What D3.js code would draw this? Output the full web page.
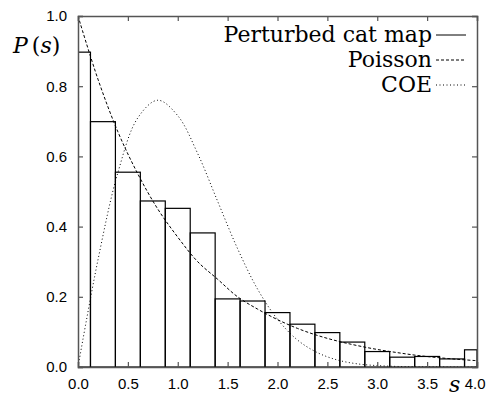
<!DOCTYPE html>
<html>
<head>
<meta charset="utf-8">
<script src="https://cdn.jsdelivr.net/npm/d3@7"></script>
<style>
  body { margin: 0; background: #fff; }
  svg { display: block; }
</style>
</head>
<body>
<div id="chart"></div>
<script>
// histogram of level spacings, bins centred on multiples of 0.25
const binCenters = [0, 0.25, 0.5, 0.75, 1.0, 1.25, 1.5, 1.75, 2.0, 2.25, 2.5, 2.75, 3.0, 3.25, 3.5, 3.75, 4.0];
const binValues = [0.897, 0.699, 0.555, 0.473, 0.452, 0.382, 0.194, 0.188, 0.155, 0.122, 0.098, 0.071, 0.044, 0.028, 0.030, 0.023, 0.049];
const binWidth = 0.25;

// reference curves
const curveS = [0, 0.2, 0.4, 0.6, 0.8, 1.0, 1.2, 1.4, 1.6, 1.8, 2.0, 2.2, 2.4, 2.6, 2.8, 3.0, 3.2, 3.4, 3.6, 3.8, 4.0];
const poissonValues = [1.0, 0.82, 0.67, 0.55, 0.45, 0.37, 0.30, 0.25, 0.20, 0.165, 0.135, 0.11, 0.09, 0.074, 0.061, 0.05, 0.041, 0.033, 0.027, 0.022, 0.018];
const coeValues = [0, 0.305, 0.554, 0.71, 0.76, 0.716, 0.608, 0.472, 0.337, 0.222, 0.136, 0.077, 0.041, 0.02, 0.009, 0.004, 0.0016, 0.0006, 0.0002, 0, 0];

const xTicks = [0, 0.5, 1.0, 1.5, 2.0, 2.5, 3.0, 3.5, 4.0];
const yTicks = [0, 0.2, 0.4, 0.6, 0.8, 1.0];
const legendLabels = ["Perturbed cat map", "Poisson", "COE"];

const W = 486, H = 398;
const margin = { top: 16, right: 9, bottom: 31, left: 78 };
const width = W - margin.left - margin.right;
const height = H - margin.top - margin.bottom;

const svg = d3.select("#chart").append("svg")
  .attr("width", W)
  .attr("height", H);

const x = d3.scaleLinear().domain([0, 4]).range([0, width]);
const y = d3.scaleLinear().domain([0, 1]).range([height, 0]);

const g = svg.append("g").attr("transform", `translate(${margin.left},${margin.top})`);

g.append("clipPath").attr("id", "plot-clip")
  .append("rect").attr("width", width).attr("height", height);

// bars
g.append("g")
  .attr("clip-path", "url(#plot-clip)")
  .selectAll("rect")
  .data(binCenters)
  .join("rect")
  .attr("x", d => x(Math.max(0, d - binWidth / 2)))
  .attr("width", d => x(Math.min(4, d + binWidth / 2)) - x(Math.max(0, d - binWidth / 2)))
  .attr("y", (d, i) => y(binValues[i]))
  .attr("height", (d, i) => y(0) - y(binValues[i]))
  .attr("fill", "none")
  .attr("stroke", "#000")
  .attr("stroke-width", 1.2);

const line = d3.line()
  .x((d, i) => x(curveS[i]))
  .y(d => y(d))
  .curve(d3.curveCatmullRom);

const curves = g.append("g").attr("clip-path", "url(#plot-clip)");
curves.append("path")
  .attr("d", line(poissonValues))
  .attr("fill", "none")
  .attr("stroke", "#000")
  .attr("stroke-width", 1)
  .attr("stroke-dasharray", "3,2");
curves.append("path")
  .attr("d", line(coeValues))
  .attr("fill", "none")
  .attr("stroke", "#000")
  .attr("stroke-width", 1)
  .attr("stroke-dasharray", "1,2.5");

// frame and ticks (inward, mirrored)
const axisColor = "#555";
const xb = g.append("g").attr("transform", `translate(0,${height})`)
  .call(d3.axisBottom(x).tickValues(xTicks).tickSize(-5).tickPadding(11).tickFormat(d3.format(".1f")));
const xt = g.append("g")
  .call(d3.axisTop(x).tickValues(xTicks).tickSize(-5).tickFormat(""));
const yl = g.append("g")
  .call(d3.axisLeft(y).tickValues(yTicks).tickSize(-5).tickPadding(11).tickFormat(d3.format(".1f")));
const yr = g.append("g").attr("transform", `translate(${width},0)`)
  .call(d3.axisRight(y).tickValues(yTicks).tickSize(-5).tickFormat(""));

[xb, xt, yl, yr].forEach(a => {
  a.select(".domain").attr("stroke", axisColor).attr("stroke-width", 1.5);
  a.selectAll(".tick line").attr("stroke", axisColor).attr("stroke-width", 1.2);
  a.selectAll(".tick text")
    .attr("fill", "#000")
    .style("font-family", "'Liberation Sans', Arial, sans-serif")
    .style("font-size", "15px");
});
// last x label sits against the right edge of the picture
xb.selectAll(".tick text").filter(d => d === 4).attr("text-anchor", "end").attr("dx", 8);

// axis labels
const serif = "'DejaVu Serif', serif";
const ylab = svg.append("text")
  .attr("x", 13)
  .attr("y", 53)
  .style("font-family", serif)
  .style("font-size", "22px");
ylab.append("tspan").attr("font-style", "italic").text("P");
ylab.append("tspan").attr("dx", 4).text("(");
ylab.append("tspan").attr("font-style", "italic").text("s");
ylab.append("tspan").text(")");

svg.append("text")
  .attr("x", 449)
  .attr("y", 392)
  .style("font-family", serif)
  .style("font-size", "22px")
  .attr("font-style", "italic")
  .text("s");

// legend
const legendDash = [null, "3,2", "1,2.5"];
const legend = svg.append("g");
legendLabels.forEach((lab, i) => {
  const yy = 42 + i * 25;
  legend.append("text")
    .attr("x", 432)
    .attr("y", yy)
    .attr("text-anchor", "end")
    .style("font-family", serif)
    .style("font-size", "22px")
    .text(lab);
  legend.append("line")
    .attr("x1", 436).attr("x2", 466)
    .attr("y1", yy - 7).attr("y2", yy - 7)
    .attr("stroke", "#000")
    .attr("stroke-width", 1)
    .attr("stroke-dasharray", legendDash[i]);
});
</script>
</body>
</html>
